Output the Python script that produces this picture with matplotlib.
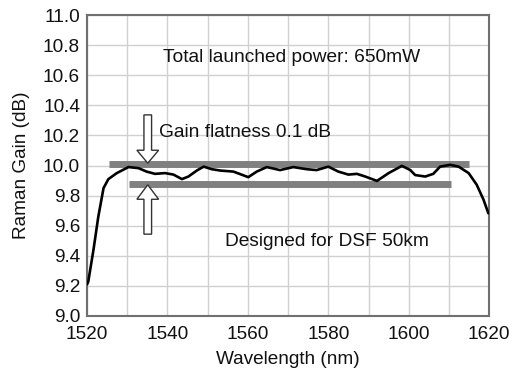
import matplotlib
matplotlib.use("Agg")
import matplotlib.pyplot as plt
from matplotlib.patches import FancyArrow

plt.rcParams['font.family'] = ['Liberation Sans', 'DejaVu Sans']

wavelength = [1520.0, 1520.3, 1521.6, 1522.8, 1524.1, 1525.3, 1527.4, 1530.3, 1532.8, 1534.8,
              1536.9, 1539.4, 1541.5, 1543.6, 1545.2, 1547.3, 1549.0, 1551.0, 1553.1,
              1556.4, 1560.1, 1562.2, 1564.7, 1568.0, 1571.3, 1574.6, 1577.1, 1580.0,
              1582.5, 1585.0, 1587.1, 1589.2, 1592.1, 1595.0, 1598.3, 1600.4, 1601.6,
              1604.1, 1606.1, 1607.8, 1610.3, 1612.4, 1614.9, 1616.9, 1618.6, 1619.8]
gain = [9.21, 9.228, 9.44, 9.66, 9.85, 9.91, 9.95, 9.99, 9.983, 9.96,
        9.945, 9.95, 9.94, 9.91, 9.927, 9.967, 9.993, 9.976, 9.967,
        9.96, 9.923, 9.96, 9.99, 9.97, 9.99, 9.976, 9.97, 9.993,
        9.96, 9.94, 9.945, 9.927, 9.898, 9.95, 9.998, 9.97, 9.937,
        9.927, 9.945, 9.993, 10.005, 9.993, 9.95, 9.873, 9.773, 9.683]

upper_bar = (1525.5, 1615.0, 10.01)
lower_bar = (1530.4, 1610.4, 9.876)

xticks = [1520, 1540, 1560, 1580, 1600, 1620]
yticks = [9.0, 9.2, 9.4, 9.6, 9.8, 10.0, 10.2, 10.4, 10.6, 10.8, 11.0]

fig = plt.figure(figsize=(5.09, 3.70), dpi=100)
ax = fig.add_axes([0.171, 0.146, 0.790, 0.813])

ax.set_xlim(1520, 1620)
ax.set_ylim(9.0, 11.0)
ax.set_xticks(xticks)
ax.set_yticks(yticks)
ax.set_yticklabels([f"{v:.1f}" for v in yticks])
ax.set_xticks(list(range(1520, 1621, 10)), minor=True)
ax.grid(True, which='both', color='#d0d0d0', linewidth=1.0)
ax.set_axisbelow(True)
ax.tick_params(which='both', length=0, labelsize=13.7, colors='#111111')
ax.tick_params(axis='x', pad=7)
ax.tick_params(axis='y', pad=5)
for s in ax.spines.values():
    s.set_color('#707070')
    s.set_linewidth(1.5)

ax.hlines(upper_bar[2], upper_bar[0], upper_bar[1], color='#808080', linewidth=5, zorder=3)
ax.hlines(lower_bar[2], lower_bar[0], lower_bar[1], color='#808080', linewidth=5, zorder=3)

ax.plot(wavelength, gain, color='black', linewidth=1.9, zorder=4,
        solid_joinstyle='round', solid_capstyle='round', clip_on=True)

# hollow arrows
down = FancyArrow(1535.1, 10.337, 0, 10.016 - 10.337, width=1.9, head_width=5.4,
                  head_length=0.086, length_includes_head=True,
                  facecolor='white', edgecolor='#333333', linewidth=1.0, zorder=5)
up = FancyArrow(1535.1, 9.544, 0, 9.872 - 9.544, width=1.9, head_width=5.4,
                head_length=0.096, length_includes_head=True,
                facecolor='white', edgecolor='#333333', linewidth=1.0, zorder=5)
ax.add_patch(down)
ax.add_patch(up)

ax.text(1538.9, 10.72, "Total launched power: 650mW", fontsize=13.8, va='center', ha='left', color='#111111')
ax.text(1538.0, 10.22, "Gain flatness 0.1 dB", fontsize=13.8, va='center', ha='left', color='#111111')
ax.text(1554.3, 9.495, "Designed for DSF 50km", fontsize=13.8, va='center', ha='left', color='#111111')

ax.set_xlabel("Wavelength (nm)", fontsize=13.7, labelpad=6, color='#111111')
ax.set_ylabel("Raman Gain (dB)", fontsize=13.7, labelpad=9, color='#111111')

fig.savefig("out.png", dpi=100)
